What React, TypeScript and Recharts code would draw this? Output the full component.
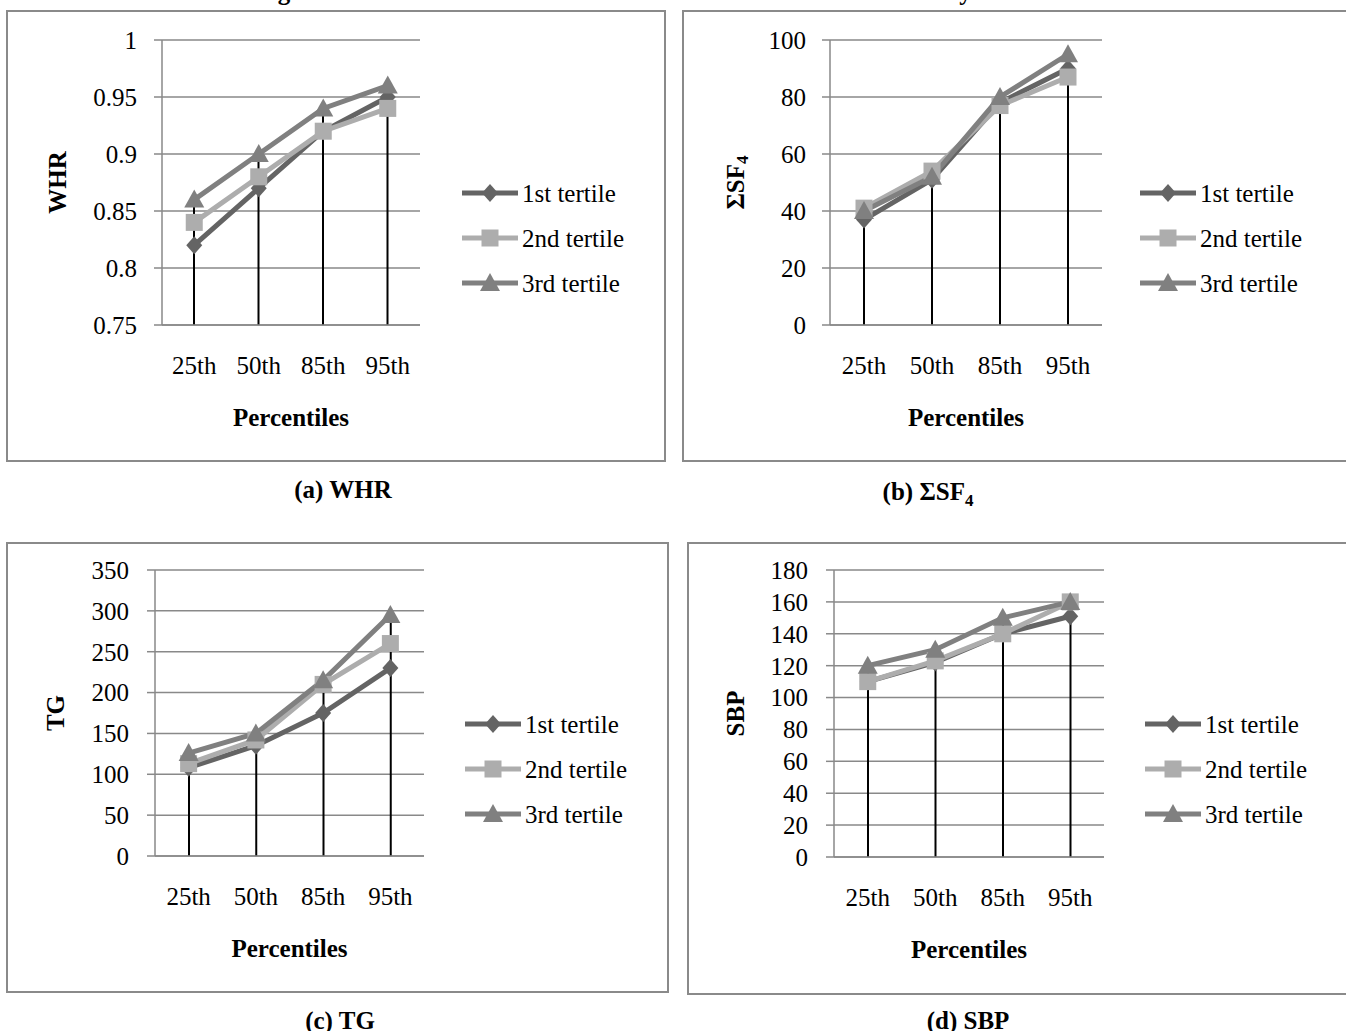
import React from 'react';
import { ComposedChart, Line, Bar, XAxis, YAxis, CartesianGrid, Legend } from 'recharts';

// ---------- data ----------
const percentiles = ['25th', '50th', '85th', '95th'];
const tertileNames = ['1st tertile', '2nd tertile', '3rd tertile'];

const whrTertile1 = [0.82, 0.87, 0.92, 0.95];
const whrTertile2 = [0.84, 0.88, 0.92, 0.94];
const whrTertile3 = [0.86, 0.9, 0.94, 0.96];
const whrTicks = [0.75, 0.8, 0.85, 0.9, 0.95, 1];

const sf4Tertile1 = [37, 51, 78, 90];
const sf4Tertile2 = [41, 54, 77, 87];
const sf4Tertile3 = [40, 52, 80, 95];
const sf4Ticks = [0, 20, 40, 60, 80, 100];

const tgTertile1 = [108, 135, 175, 230];
const tgTertile2 = [113, 142, 210, 260];
const tgTertile3 = [126, 150, 215, 295];
const tgTicks = [0, 50, 100, 150, 200, 250, 300, 350];

const sbpTertile1 = [110, 122, 140, 151];
const sbpTertile2 = [110, 123, 140, 160];
const sbpTertile3 = [120, 130, 150, 160];
const sbpTicks = [0, 20, 40, 60, 80, 100, 120, 140, 160, 180];

const figureTitle = 'Figure 1. Percentiles distribution of cardiometabolic risk factors by WC tertiles';

// ---------- style ----------
const FONT = "'Liberation Serif', 'Times New Roman', Times, serif";
const GRID = '#898989';
const BORDER = '#8a8a8a';
const COLORS = ['#646464', '#adadad', '#808080'];
const FS = 25;
const LW = 5;

function buildRows(t1: number[], t2: number[], t3: number[]) {
  return percentiles.map((p, i) => ({
    p,
    t1: t1[i],
    t2: t2[i],
    t3: t3[i],
    drop: Math.max(t1[i], t2[i], t3[i]),
  }));
}

function markerShape(i: number, cx: number, cy: number, key?: any) {
  if (i === 0) {
    return <polygon key={key} points={`${cx},${cy - 9} ${cx + 8},${cy} ${cx},${cy + 9} ${cx - 8},${cy}`} fill={COLORS[0]} />;
  }
  if (i === 1) {
    return <rect key={key} x={cx - 8.5} y={cy - 8.5} width={17} height={17} fill={COLORS[1]} />;
  }
  return <polygon key={key} points={`${cx},${cy - 10} ${cx + 10},${cy + 8} ${cx - 10},${cy + 8}`} fill={COLORS[2]} />;
}

const makeDot = (i: number) => (props: any) => {
  const { cx, cy, index } = props;
  if (cx == null || cy == null) return <g key={`e${i}-${index}`} />;
  return markerShape(i, cx, cy, `d${i}-${index}`);
};

const LegendContent = () => (
  <div style={{ fontFamily: FONT, fontSize: FS, color: '#000' }}>
    {tertileNames.map((name, i) => (
      <div key={name} style={{ display: 'flex', alignItems: 'center', height: 45 }}>
        <svg width={56} height={22} style={{ marginRight: 4, display: 'block' }}>
          <line x1={0} x2={56} y1={11} y2={11} stroke={COLORS[i]} strokeWidth={LW} />
          {markerShape(i, 28, 11)}
        </svg>
        <span style={{ lineHeight: '45px', whiteSpace: 'nowrap' }}>{name}</span>
      </div>
    ))}
  </div>
);

type Box = { x: number; y: number; w: number; h: number };
type Plot = { x1: number; x2: number; y1: number; y2: number };

type PanelProps = {
  box: Box;
  plot: Plot;
  rows: any[];
  ticks: number[];
  yLabel: React.ReactNode;
  yLabelGap: number;
  tickGap: number;
  legendX: number;
  legendY: number;
  caption: React.ReactNode;
  captionX: number;
  captionY: number;
};

const Y_AXIS_W = 130;
const X_AXIS_H = 100;

function Panel(p: PanelProps) {
  const { box, plot } = p;
  const margin = {
    top: plot.y1 - box.y,
    left: plot.x1 - box.x - Y_AXIS_W,
    right: box.x + box.w - plot.x2,
    bottom: box.y + box.h - plot.y2 - X_AXIS_H,
  };
  const labelCx = plot.x1 - box.x - p.yLabelGap;
  const labelCy = (plot.y1 + plot.y2) / 2 - box.y;
  const yLabelContent = () => (
    <text
      x={labelCx}
      y={labelCy}
      transform={`rotate(-90, ${labelCx}, ${labelCy})`}
      textAnchor="middle"
      dominantBaseline="central"
      fill="#000"
      style={{ fontFamily: FONT, fontSize: FS, fontWeight: 'bold' }}
    >
      {p.yLabel}
    </text>
  );
  const domain = [p.ticks[0], p.ticks[p.ticks.length - 1]];
  return (
    <>
      <div
        style={{
          position: 'absolute',
          left: box.x,
          top: box.y,
          width: box.w,
          height: box.h,
          border: `2px solid ${BORDER}`,
          boxSizing: 'border-box',
        }}
      />
      <div style={{ position: 'absolute', left: box.x, top: box.y }}>
        <ComposedChart width={box.w} height={box.h} data={p.rows} margin={margin}>
          <CartesianGrid horizontal={true} vertical={false} stroke={GRID} strokeWidth={1.5} />
          <XAxis
            dataKey="p"
            type="category"
            height={X_AXIS_H}
            axisLine={{ stroke: GRID, strokeWidth: 1.5 }}
            tickLine={false}
            tickSize={0}
            tickMargin={31}
            tick={{ fill: '#000', fontSize: FS, fontFamily: FONT }}
            label={{
              value: 'Percentiles',
              position: 'insideTop',
              offset: 83,
              fill: '#000',
              fontSize: FS,
              fontWeight: 'bold',
              fontFamily: FONT,
            }}
          />
          <YAxis
            type="number"
            width={Y_AXIS_W}
            domain={domain}
            ticks={p.ticks}
            interval={0}
            axisLine={{ stroke: GRID, strokeWidth: 1.5 }}
            tickLine={{ stroke: GRID, strokeWidth: 1.5 }}
            tickSize={8}
            tickMargin={p.tickGap - 8}
            tick={{ fill: '#000', fontSize: FS, fontFamily: FONT }}
            label={{ content: yLabelContent }}
          />
          <Legend
            layout="vertical"
            align="center"
            verticalAlign="middle"
            content={LegendContent}
            wrapperStyle={{ left: p.legendX - box.x, top: p.legendY - 22.5 - box.y, width: 'auto', height: 'auto' }}
          />
          <Line
            dataKey="t1"
            name={tertileNames[0]}
            stroke={COLORS[0]}
            strokeWidth={LW}
            dot={makeDot(0)}
            activeDot={false}
            isAnimationActive={false}
          />
          <Line
            dataKey="t2"
            name={tertileNames[1]}
            stroke={COLORS[1]}
            strokeWidth={LW}
            dot={makeDot(1)}
            activeDot={false}
            isAnimationActive={false}
          />
          <Line
            dataKey="t3"
            name={tertileNames[2]}
            stroke={COLORS[2]}
            strokeWidth={LW}
            dot={makeDot(2)}
            activeDot={false}
            isAnimationActive={false}
          />
          <Bar dataKey="drop" barSize={2} fill="#000" isAnimationActive={false} legendType="none" />
        </ComposedChart>
      </div>
      <div
        style={{
          position: 'absolute',
          left: p.captionX - 150,
          width: 300,
          top: p.captionY - 15,
          height: 30,
          lineHeight: '30px',
          textAlign: 'center',
          fontFamily: FONT,
          fontSize: FS,
          fontWeight: 'bold',
          color: '#000',
          whiteSpace: 'nowrap',
        }}
      >
        {p.caption}
      </div>
    </>
  );
}

export default function App() {
  return (
    <div
      style={{
        position: 'absolute',
        left: 0,
        top: 0,
        width: 1346,
        height: 1031,
        overflow: 'hidden',
        background: '#fff',
        fontFamily: FONT,
      }}
    >
      <div
        style={{
          position: 'absolute',
          left: 0,
          width: 1356,
          top: -21,
          height: 26,
          lineHeight: '26px',
          textAlign: 'center',
          fontFamily: FONT,
          fontSize: FS,
          fontWeight: 'bold',
          color: '#000',
          whiteSpace: 'nowrap',
        }}
      >
        {figureTitle}
      </div>
      <Panel
        box={{ x: 6, y: 10, w: 660, h: 452 }}
        plot={{ x1: 162, x2: 420, y1: 40, y2: 325 }}
        rows={buildRows(whrTertile1, whrTertile2, whrTertile3)}
        ticks={whrTicks}
        yLabel="WHR"
        yLabelGap={105}
        tickGap={25}
        legendX={462}
        legendY={193}
        caption="(a) WHR"
        captionX={343}
        captionY={490}
      />
      <Panel
        box={{ x: 682, y: 10, w: 670, h: 452 }}
        plot={{ x1: 830, x2: 1102, y1: 40, y2: 325 }}
        rows={buildRows(sf4Tertile1, sf4Tertile2, sf4Tertile3)}
        ticks={sf4Ticks}
        yLabel={
          <>
            ΣSF<tspan dy={7} fontSize={17}>4</tspan>
          </>
        }
        yLabelGap={95}
        tickGap={24}
        legendX={1140}
        legendY={193}
        caption={
          <>
            (b) ΣSF<sub style={{ fontSize: 17 }}>4</sub>
          </>
        }
        captionX={928}
        captionY={492}
      />
      <Panel
        box={{ x: 6, y: 542, w: 663, h: 451 }}
        plot={{ x1: 155, x2: 424, y1: 570, y2: 856 }}
        rows={buildRows(tgTertile1, tgTertile2, tgTertile3)}
        ticks={tgTicks}
        yLabel="TG"
        yLabelGap={100}
        tickGap={26}
        legendX={465}
        legendY={724}
        caption="(c) TG"
        captionX={340}
        captionY={1021}
      />
      <Panel
        box={{ x: 687, y: 542, w: 665, h: 453 }}
        plot={{ x1: 834, x2: 1104, y1: 570, y2: 857 }}
        rows={buildRows(sbpTertile1, sbpTertile2, sbpTertile3)}
        ticks={sbpTicks}
        yLabel="SBP"
        yLabelGap={99}
        tickGap={26}
        legendX={1145}
        legendY={724}
        caption="(d) SBP"
        captionX={968}
        captionY={1021}
      />
    </div>
  );
}
